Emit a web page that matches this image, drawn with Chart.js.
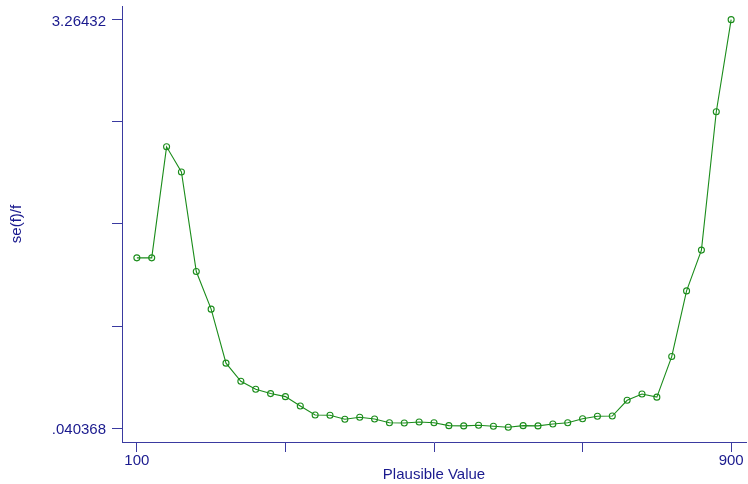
<!DOCTYPE html>
<html>
<head>
<meta charset="utf-8">
<script src="https://cdn.jsdelivr.net/npm/chart.js@4"></script>
<style>
  html, body { margin: 0; padding: 0; background: #fff; }
  #wrap { width: 748px; height: 484px; }
</style>
</head>
<body>
<div id="wrap"><canvas id="se-chart" width="748" height="484"></canvas></div>
<script>
// plausible values along x
const plausible = [100, 120, 140, 160, 180, 200, 220, 240, 260, 280, 300, 320, 340, 360, 380, 400,
    420, 440, 460, 480, 500, 520, 540, 560, 580, 600, 620, 640, 660, 680, 700, 720, 740, 760, 780,
    800, 820, 840, 860, 880, 900];
// se(f)/f
const seRatio = [1.385, 1.385, 2.261, 2.062, 1.277, 0.980, 0.554, 0.411, 0.348, 0.314, 0.290,
    0.216, 0.145, 0.143, 0.111, 0.127, 0.113, 0.084, 0.082, 0.090, 0.084, 0.061, 0.059, 0.064,
    0.056, 0.048, 0.061, 0.059, 0.074, 0.084, 0.116, 0.135, 0.137, 0.261, 0.311, 0.286, 0.606,
    1.124, 1.446, 2.538, 3.26432];
const xTicks = [100, 300, 500, 700, 900];
const yTicks = [0.040368, 0.846356, 1.652344, 2.458332, 3.26432];
const yLabels = ['.040368', '', '', '', '3.26432'];
const xLabels = ['100', '', '', '', '900'];

const navy = '#1a1a8e';
const axisCol = '#3a3aa0';
const green = '#1a8c1a';

const seData = {
    datasets: [{
        data: plausible.map((x, i) => ({x: x, y: seRatio[i]})),
        borderColor: green,
        borderWidth: 1.1,
        pointRadius: 3,
        pointBorderWidth: 1.1,
        pointBorderColor: green,
        pointBackgroundColor: 'rgba(0,0,0,0)',
        tension: 0,
        clip: false
    }]
};

const seOptions = {
    responsive: false,
    animation: false,
    layout: {
        autoPadding: false,
        padding: {top: 6, right: 2, left: 0, bottom: 0}
    },
    plugins: {
        legend: {display: false},
        tooltip: {enabled: false}
    },
    scales: {
        x: {
            type: 'linear',
            min: 80,
            max: 920,
            afterBuildTicks: axis => { axis.ticks = xTicks.map(v => ({value: v})); },
            afterFit: axis => {
                axis.height = 42;
                axis.paddingLeft = 0;
                axis.paddingRight = 0;
            },
            border: {color: axisCol, width: 1},
            grid: {drawOnChartArea: false, tickLength: 10, color: axisCol},
            ticks: {
                color: navy,
                padding: 0,
                maxRotation: 0,
                font: {family: 'Liberation Sans', size: 15},
                callback: (v, i) => xLabels[i]
            },
            title: {
                display: true,
                text: 'Plausible Value',
                color: navy,
                padding: {top: 0, bottom: 0},
                font: {family: 'Liberation Sans', size: 15}
            }
        },
        y: {
            min: -0.068,
            max: 3.372,
            afterBuildTicks: axis => { axis.ticks = yTicks.map(v => ({value: v})); },
            afterFit: axis => {
                axis.width = 122;
                axis.paddingTop = 0;
                axis.paddingBottom = 0;
            },
            border: {color: axisCol, width: 1},
            grid: {drawOnChartArea: false, tickLength: 10, color: axisCol},
            ticks: {
                color: navy,
                padding: 6,
                labelOffset: 2,
                font: {family: 'Liberation Sans', size: 15},
                callback: (v, i) => yLabels[i]
            },
            title: {
                display: true,
                text: 'se(f)/f',
                color: navy,
                padding: {top: 8, bottom: 0},
                font: {family: 'Liberation Sans', size: 15}
            }
        }
    }
};

const seCanvas = document.getElementById('se-chart');
let seChart = new Chart(seCanvas, {
    type: 'line',
    data: seData,
    options: seOptions
});
</script>
</body>
</html>
